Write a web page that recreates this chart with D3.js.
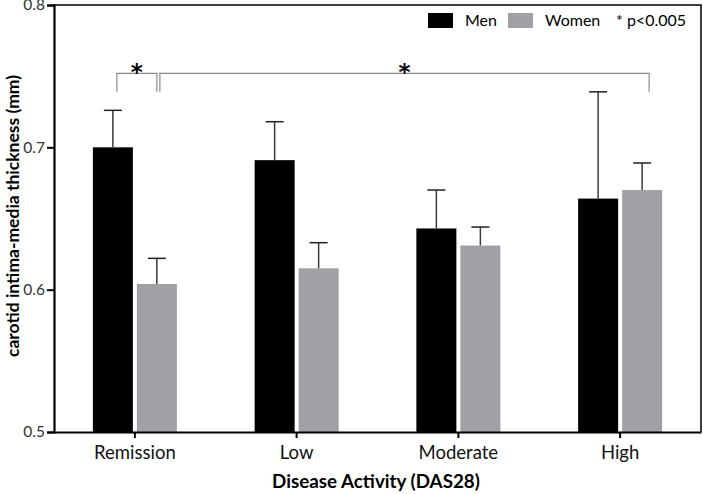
<!DOCTYPE html>
<html><head><meta charset="utf-8">
<script src="https://cdn.jsdelivr.net/npm/d3@7"></script>
<style>body{margin:0;background:#fff}svg{display:block}</style>
</head><body>
<svg id="c" width="703" height="494"></svg>
<script>
const categories = ["Remission", "Low", "Moderate", "High"];
const seriesNames = ["Men", "Women"];
const menValues = [0.700, 0.691, 0.643, 0.664];
const menErrTop = [0.726, 0.718, 0.670, 0.739];
const womenValues = [0.604, 0.615, 0.631, 0.670];
const womenErrTop = [0.622, 0.633, 0.644, 0.689];
const yTicks = [0.5, 0.6, 0.7, 0.8];
const colors = ["#000000", "#a1a1a5"];
const sigBrackets = [
  {from: [0, 0], to: [0, 1], y: 0.752, drop: 0.739},
  {from: [0, 1], to: [3, 1], y: 0.752, drop: 0.739}
];

const svg = d3.select("#c");
const mLeft = 54, mRight = 701, mTop = 5, mBottom = 432;
const font = "Lato, 'Open Sans', sans-serif";

const x = d3.scaleBand().domain(categories).range([mLeft, mRight]).padding(0);
const y = d3.scaleLinear().domain([0.5, 0.8]).range([mBottom, mTop]);

const barW = 40, gap = 2;
const offs = [-gap - barW, gap];
const series = [
  {vals: menValues, err: menErrTop},
  {vals: womenValues, err: womenErrTop}
];
const center = (ci, si) => x(categories[ci]) + x.bandwidth() / 2 + offs[si] + barW / 2;

// frame (top & right)
svg.append("path")
  .attr("d", `M${mLeft},${mTop}H${mRight}V${mBottom}`)
  .attr("fill", "none").attr("stroke", "#000").attr("stroke-width", 1.5);

// bars
series.forEach((s, si) => {
  svg.append("g").selectAll("rect").data(s.vals).join("rect")
    .attr("x", (d, i) => x(categories[i]) + x.bandwidth() / 2 + offs[si])
    .attr("width", barW)
    .attr("y", d => y(d))
    .attr("height", d => y(0.5) - y(d))
    .attr("fill", colors[si]);
  const eg = svg.append("g").attr("stroke-width", 1.5);
  s.err.forEach((e, i) => {
    const cx = center(i, si);
    eg.append("line").attr("x1", cx).attr("x2", cx).attr("y1", y(s.vals[i])).attr("y2", y(e)).attr("stroke", "#3a3a3a");
    eg.append("line").attr("x1", cx - 9).attr("x2", cx + 9).attr("y1", y(e)).attr("y2", y(e)).attr("stroke", "#222");
  });
});

// significance brackets
sigBrackets.forEach((b, k) => {
  const x1 = center(b.from[0], b.from[1]) + (k === 1 ? 3 : 4);
  const x2 = center(b.to[0], b.to[1]) + (k === 1 ? 7 : 0);
  svg.append("path")
    .attr("d", `M${x1},${y(b.drop)}V${y(b.y)}H${x2}V${y(b.drop)}`)
    .attr("fill", "none").attr("stroke", "#8a8a8a").attr("stroke-width", 1.2);
  svg.append("text").attr("x", (x1 + x2) / 2).attr("y", y(b.y) + 7)
    .attr("text-anchor", "middle").attr("font-family", "'DejaVu Sans', sans-serif")
    .attr("font-weight", "bold").attr("font-size", 23).text("*");
});

// y axis
const ya = svg.append("g").attr("transform", `translate(${mLeft},0)`)
  .call(d3.axisLeft(y).tickValues(yTicks).tickFormat(d3.format(".1f")).tickSize(7).tickPadding(2));
ya.select(".domain").attr("stroke-width", 2.2);
ya.selectAll(".tick line").attr("stroke-width", 2);
ya.selectAll("text").attr("font-family", font).attr("font-size", 15.5).attr("fill", "#333");

// x axis
const xa = svg.append("g").attr("transform", `translate(0,${mBottom})`)
  .call(d3.axisBottom(x).tickSize(6).tickPadding(8).tickSizeOuter(0));
xa.select(".domain").attr("stroke-width", 2.2);
xa.selectAll(".tick line").attr("stroke-width", 2);
xa.selectAll("text").attr("font-family", font).attr("font-size", 18.5).attr("fill", "#111");

// axis titles
svg.append("text").attr("x", 376).attr("y", 488)
  .attr("text-anchor", "middle").attr("font-family", font).attr("font-weight", "bold")
  .attr("font-size", 18.8).text("Disease Activity (DAS28)");
svg.append("text").attr("transform", `translate(19,216) rotate(-90)`)
  .attr("text-anchor", "middle").attr("font-family", font).attr("font-weight", "bold")
  .attr("font-size", 17.5).text("carotid intima-media thickness (mm)");

// legend
const lg = svg.append("g").attr("font-family", font).attr("font-size", 16);
const legX = [428, 508];
seriesNames.forEach((n, i) => {
  lg.append("rect").attr("x", legX[i]).attr("y", 13).attr("width", 25).attr("height", 15).attr("fill", colors[i]);
  lg.append("text").attr("x", legX[i] + 37).attr("y", 26).text(n);
});
lg.append("text").attr("x", 616).attr("y", 26).text("* p<0.005");
</script>
</body></html>
